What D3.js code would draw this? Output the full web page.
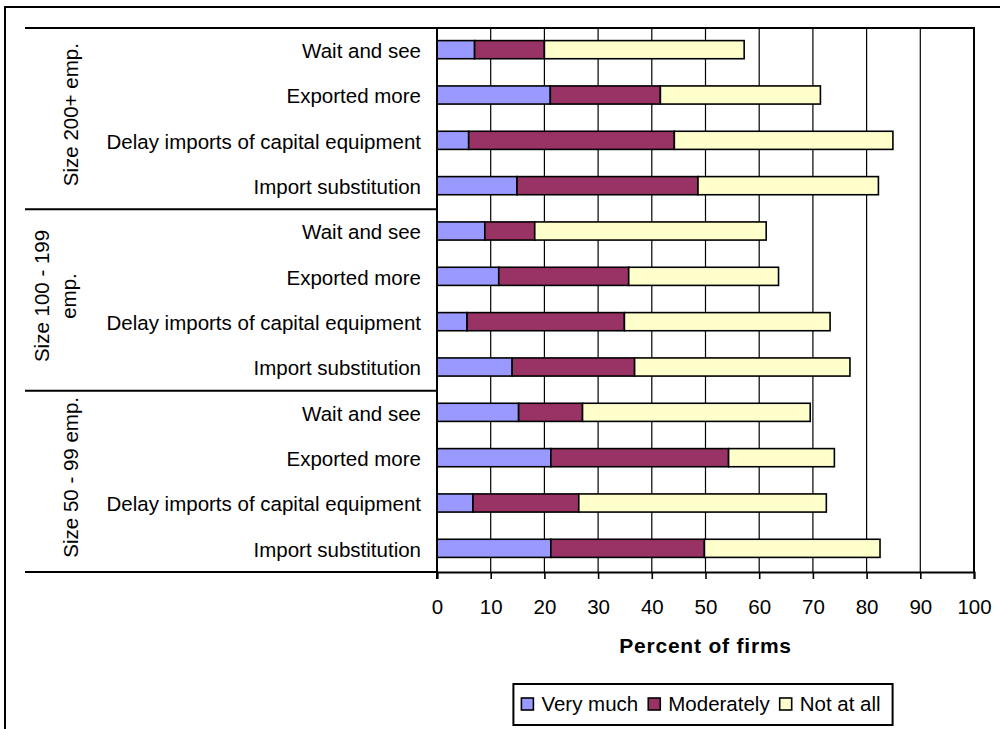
<!DOCTYPE html>
<html>
<head>
<meta charset="utf-8">
<script src="https://cdn.jsdelivr.net/npm/d3@7"></script>
<style>
  html, body { margin: 0; padding: 0; background: #fff; }
  svg { display: block; font-family: "Liberation Sans", Arial, sans-serif; }
</style>
</head>
<body>
<svg id="chart" width="1000" height="729"></svg>
<script>
// Firm-size groups (top to bottom) and their wrapped labels
const groups = ["Size 200+ emp.", "Size 100 - 199 emp.", "Size 50 - 99 emp."];
const groupLines = [["Size 200+ emp."], ["Size 100 - 199", "emp."], ["Size 50 - 99 emp."]];

// Responses listed within every group (top to bottom)
const responses = ["Wait and see", "Exported more", "Delay imports of capital equipment", "Import substitution"];

// Series
const seriesNames = ["Very much", "Moderately", "Not at all"];
const seriesColors = ["#9999FF", "#993366", "#FFFFCC"];

// Percent of firms, one value per row (group-major, response order as above)
const veryMuch   = [7.0, 21.1, 5.9, 14.9,   8.9, 11.5, 5.6, 14.0,   15.2, 21.2, 6.7, 21.2];
const moderately = [13.0, 20.5, 38.3, 33.7,  9.3, 24.2, 29.3, 22.8,  11.9, 33.1, 19.7, 28.6];
const notAtAll   = [37.2, 29.8, 40.7, 33.6,  43.1, 27.9, 38.3, 40.1,  42.4, 19.7, 46.1, 32.7];

const xTicks = [0, 10, 20, 30, 40, 50, 60, 70, 80, 90, 100];
const xTitle = "Percent of firms";

// ---- layout ----
const svg = d3.select("#chart");
const FONT = 20.5;
const plot = { left: 437, right: 974, top: 28, bottom: 572 };
const catAxisLeft = 25;

const rows = [];
groups.forEach((g, gi) => responses.forEach((r, ri) => {
  const i = gi * responses.length + ri;
  rows.push({ id: g + "|" + r, group: g, response: r,
              "Very much": veryMuch[i], "Moderately": moderately[i], "Not at all": notAtAll[i] });
}));

const x = d3.scaleLinear().domain([0, 100]).range([plot.left, plot.right]);
const y = d3.scaleBand().domain(rows.map(d => d.id))
  .range([plot.top, plot.bottom]).paddingInner(0.6).paddingOuter(0.3);
const color = d3.scaleOrdinal().domain(seriesNames).range(seriesColors);

// Outer chart frame
svg.append("rect")
  .attr("x", 5).attr("y", 7).attr("width", 1000).attr("height", 740)
  .attr("fill", "none").attr("stroke", "#000").attr("stroke-width", 2);

// Vertical gridlines
svg.append("g").selectAll("line").data(xTicks.slice(1, -1)).join("line")
  .attr("x1", d => x(d)).attr("x2", d => x(d))
  .attr("y1", plot.top).attr("y2", plot.bottom)
  .attr("stroke", "#000").attr("stroke-width", 1.2);

// Stacked bars
const stack = d3.stack().keys(seriesNames)(rows);
svg.append("g").selectAll("g").data(stack).join("g")
  .attr("fill", d => color(d.key))
  .selectAll("rect").data(d => d).join("rect")
    .attr("x", d => x(d[0]))
    .attr("y", d => y(d.data.id) - 1)
    .attr("width", d => x(d[1]) - x(d[0]))
    .attr("height", y.bandwidth())
    .attr("stroke", "#000").attr("stroke-width", 1.6);

// Plot area border (top and right)
svg.append("path")
  .attr("d", `M${plot.left},${plot.top}H${plot.right}V${plot.bottom}`)
  .attr("fill", "none").attr("stroke", "#000").attr("stroke-width", 2);

// Value axis
const xAxis = svg.append("g")
  .attr("transform", `translate(0,${plot.bottom})`)
  .call(d3.axisBottom(x).tickValues(xTicks).tickFormat(d3.format("d")).tickSize(7));
xAxis.select(".domain").attr("stroke", "#000").attr("stroke-width", 2);
xAxis.selectAll(".tick line").attr("stroke", "#000").attr("stroke-width", 1.6);
xAxis.selectAll(".tick text")
  .attr("font-size", FONT).attr("fill", "#000").attr("font-family", null)
  .attr("dy", "0.72em").attr("y", 27);

// Value axis title
svg.append("text")
  .attr("x", (plot.left + plot.right) / 2).attr("y", 653)
  .attr("text-anchor", "middle").attr("font-weight", "bold")
  .attr("font-size", 21).attr("letter-spacing", "0.8px")
  .text(xTitle);

// Category axis line
svg.append("line")
  .attr("x1", plot.left).attr("x2", plot.left)
  .attr("y1", plot.top).attr("y2", plot.bottom + 7)
  .attr("stroke", "#000").attr("stroke-width", 2);

// Group divider lines of the two-level category axis, at band boundaries
const edgeAt = k => plot.top + y.step() * k;
const edges = d3.range(groups.length + 1).map(gi => gi === groups.length ? plot.bottom : edgeAt(gi * responses.length));
svg.append("g").selectAll("line").data(edges).join("line")
  .attr("x1", catAxisLeft).attr("x2", plot.left)
  .attr("y1", d => d).attr("y2", d => d)
  .attr("stroke", "#000").attr("stroke-width", 2);

// Response labels
svg.append("g").selectAll("text").data(rows).join("text")
  .attr("x", 421)
  .attr("y", d => y(d.id) + y.bandwidth() / 2)
  .attr("dy", "0.36em")
  .attr("text-anchor", "end")
  .attr("font-size", FONT)
  .text(d => d.response);

// Group labels, rotated
const baselineSets = { 1: [78], 2: [49, 75.5] };
groups.forEach((g, gi) => {
  const cy = (edges[gi] + edges[gi + 1]) / 2 - 4;
  const lines = groupLines[gi];
  baselineSets[lines.length].forEach((bx, li) => {
    svg.append("text")
      .attr("transform", `translate(${bx},${cy}) rotate(-90)`)
      .attr("text-anchor", "middle")
      .attr("font-size", FONT)
      .text(lines[li]);
  });
});

// Legend
const legend = svg.append("g");
const items = legend.selectAll("g").data(seriesNames).join("g");
items.append("rect")
  .attr("width", 12).attr("height", 12)
  .attr("fill", d => color(d)).attr("stroke", "#000").attr("stroke-width", 1.6);
items.append("text")
  .attr("x", 20).attr("y", 13)
  .attr("font-size", FONT)
  .text(d => d);
let cursor = 0;
items.each(function () {
  const g = d3.select(this);
  g.attr("transform", `translate(${cursor},0)`);
  const w = 20 + g.select("text").node().getComputedTextLength();
  cursor += w + 10;
});
const legendWidth = cursor - 10;
const boxPadL = 8, boxPadR = 12;
const boxW = legendWidth + boxPadL + boxPadR;
const boxX = 703 - boxW / 2;
legend.insert("rect", ":first-child")
  .attr("x", -boxPadL).attr("y", -14).attr("width", boxW).attr("height", 41)
  .attr("fill", "#fff").attr("stroke", "#000").attr("stroke-width", 2);
legend.attr("transform", `translate(${boxX + boxPadL},${698})`);
</script>
</body>
</html>
